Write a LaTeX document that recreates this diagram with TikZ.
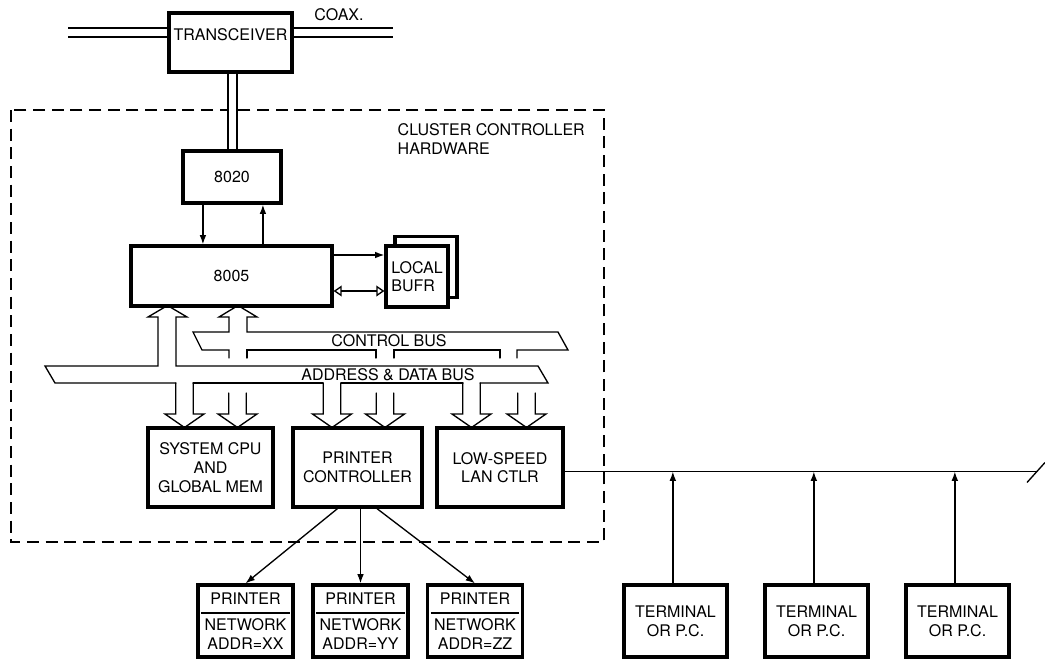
\documentclass[tikz,border=0pt]{standalone}
\usepackage{fontspec}
\setmainfont{TeX Gyre Heros}
\usepackage{tikz}
\usetikzlibrary{positioning, arrows.meta, calc}

\begin{document}
\begin{tikzpicture}[x=0.75pt, y=-0.75pt,
    every node/.style={font=\fontsize{12}{14}\selectfont, align=center},
    unit/.style={draw, line width=2.4pt, fill=white, inner sep=2pt},
    wire/.style={line width=1pt},
    sig/.style={wire, -{Latex[length=7pt, width=5pt]}},
    coax/.style={line width=1pt, double, double distance=5.6pt},
    bus/.style={line width=1pt, line join=miter, line cap=round}]
  \useasboundingbox (0,0) rectangle (1045,660);

  % cluster controller frame
  \draw[wire, dash pattern=on 9pt off 5pt] (11,110) rectangle (604,542);
  \node[anchor=west, align=left] (cclbl) at (393,139) {CLUSTER CONTROLLER\\HARDWARE};

  % transceiver on the coax
  \node[unit, minimum width=92.25pt, minimum height=44.25pt,
        label={[yshift=5.5pt]center:TRANSCEIVER}] (trx) at (230.5,42.5) {};
  \coordinate (coaxW) at (68,32.5);
  \coordinate (coaxE) at (393,32.5);
  \draw[coax] (coaxW) -- (coaxW -| trx.west);
  \draw[coax] (trx.east |- coaxE) -- (coaxE);
  \node (coaxlbl) at (339,15) {COAX.};

  % 8020, 8005 and local buffer
  \node[unit, minimum width=73.5pt, minimum height=39pt] (c8020) at (232,177) {8020};
  \node[unit, minimum width=150.75pt, minimum height=45pt] (c8005) at (231.5,276) {8005};
  \draw[coax] ([xshift=1.5pt]trx.south) -- ([xshift=1.5pt]trx.south |- c8020.north);
  \draw[sig] ([xshift=-21.8pt]c8020.south) -- ([xshift=-21.8pt]c8020.south |- c8005.north);
  \draw[sig] ([xshift=23.2pt]c8020.south |- c8005.north) -- ([xshift=23.2pt]c8020.south);

  \node[unit, minimum width=46.5pt, minimum height=45.75pt] (bufrback) at (426,267) {};
  \node[unit, minimum width=46.5pt, minimum height=45.75pt, align=left, inner sep=1pt] (bufr) at (417,276.5) {LOCAL\\BUFR};
  \draw[sig] ([yshift=15.75pt]c8005.east) -- ([yshift=15.75pt]c8005.east -| bufr.west);
  \draw[wire, {Triangle[open, length=6pt, width=8pt]}-{Triangle[open, length=6pt, width=8pt]}]
    ([yshift=-11.25pt]c8005.east) -- ([yshift=-11.25pt]c8005.east -| bufr.west);

  % control bus with its up arrow
  \draw[bus] (229,358) -- (229,350) -- (202,350) -- (193,332) -- (229,332) -- (229,317)
    -- (219,317) -- (238,305.5) -- (257,317) -- (247,317) -- (247,332) -- (558,332)
    -- (568,350) -- (517,350) -- (517,358);
  \draw[bus] (247,358) -- (247,350) -- (376,350) -- (376,358);
  \draw[bus] (394,358) -- (394,350) -- (500,350) -- (500,358);
  \node (ctrllbl) at (389,341) {CONTROL BUS};

  % address & data bus with its up arrow
  \draw[bus] (176,383) -- (55,383) -- (45,366) -- (158,366) -- (158,317) -- (148,317)
    -- (167.5,305.5) -- (187,317) -- (176,317) -- (176,366) -- (538,366) -- (548,383)
    -- (480,383);
  \draw[bus] (193,383) -- (323,383);
  \draw[bus] (341,383) -- (463,383);
  \node (addrlbl) at (388,375) {ADDRESS \& DATA BUS};

  % hollow arrows down to the boards
  \foreach \c/\t in {184.5/383, 332/383, 471.5/383, 237.5/393, 385/393, 526.5/393}
    \draw[bus] (\c-8.75,\t) -- (\c-8.75,414) -- (\c-19.5,414) -- (\c,427.5)
      -- (\c+19.5,414) -- (\c+8.75,414) -- (\c+8.75,\t);

  % boards
  \node[unit, minimum width=93.75pt, minimum height=59.25pt] (cpu) at (210.5,467.5) {SYSTEM CPU\\AND\\GLOBAL MEM};
  \node[unit, minimum width=96.75pt, minimum height=59.25pt] (prc) at (357.5,467.5) {PRINTER\\CONTROLLER};
  \node[unit, minimum width=94.5pt, minimum height=59.25pt] (lan) at (500,467.5) {LOW-SPEED\\LAN CTLR};

  % printers
  \foreach \i/\x/\a in {1/245.5/XX, 2/360.5/YY, 3/475/ZZ} {
    \node[unit, minimum width=71.25pt, minimum height=54pt] (prn\i) at (\x,621) {PRINTER\\[6pt]NETWORK\\ADDR=\a};
    \draw[wire] ($(prn\i.west)+(5,-8)$) -- ($(prn\i.east)+(-5,-8)$);
  }
  \draw[sig] ([xshift=-15pt]prc.south) -- (prn1.north);
  \draw[sig] (prn2.north |- prc.south) -- (prn2.north);
  \draw[sig] ([xshift=14.6pt]prc.south) -- (prn3.north);

  % low-speed LAN and terminals
  \coordinate (lanbus) at (1037,471.5);
  \draw[wire] (lan.east |- lanbus) -- (lanbus);
  \draw[wire] ($(lanbus)+(-10,11)$) -- ($(lanbus)+(8,-9)$);
  \foreach \i/\x in {1/675.5, 2/816.5, 3/957.5} {
    \node[unit, minimum width=77.25pt, minimum height=54pt] (term\i) at (\x,621) {TERMINAL\\OR P.C.};
    \draw[sig] ([xshift=-2pt]term\i.north) -- ([xshift=-2pt]term\i.north |- lanbus);
  }
\end{tikzpicture}
\end{document}
